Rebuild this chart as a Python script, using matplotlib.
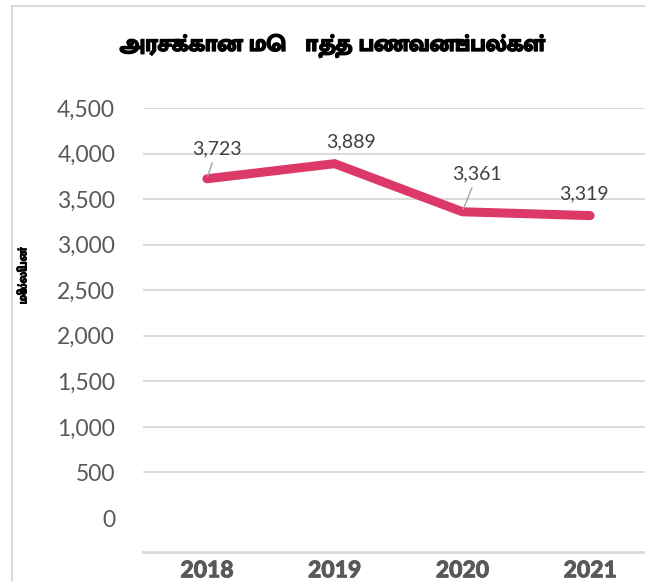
import matplotlib
matplotlib.use('Agg')
import matplotlib.pyplot as plt
import matplotlib.patheffects as pe
from matplotlib import font_manager
from matplotlib.ft2font import FT2Font
from matplotlib.patches import Rectangle

# data
years = ['2018', '2019', '2020', '2021']
values = [3723, 3889, 3361, 3319]
value_labels = ['3,723', '3,889', '3,361', '3,319']
ticks = [0, 500, 1000, 1500, 2000, 2500, 3000, 3500, 4000, 4500]
title = 'அரசுக்கான மொத்த பணவனுப்பல்கள்'
ylabel = 'மில்லியன்'

# fonts that have Tamil glyphs; prefer a bold one
tamil_fonts = []
for f in font_manager.fontManager.ttflist:
    try:
        if 0x0B85 in FT2Font(f.fname).get_charmap():
            tamil_fonts.append(f)
    except Exception:
        pass
tamil_fonts.sort(key=lambda f: -(f.weight if isinstance(f.weight, int) else 400))
tfile = tamil_fonts[0].fname if tamil_fonts else None

def tamil_prop(size):
    if tfile:
        return font_manager.FontProperties(fname=tfile, size=size)
    return font_manager.FontProperties(family='DejaVu Sans', size=size)

plt.rcParams['font.family'] = ['Lato', 'DejaVu Sans']

fig = plt.figure(figsize=(6.45, 5.81), dpi=100)
fig.patches.append(Rectangle((12/645, -0.1), 1.2, 1 - 6/581 + 0.1, transform=fig.transFigure,
                             fc='none', ec='#d9d9d9', lw=1.5, zorder=-1))
ax = fig.add_axes([143/645, 1 - 552/581, 511/645, (552 - 108)/581])
ax.patch.set_alpha(0)

x = list(range(len(years)))
ax.plot(x, values, color='#dc3868', lw=6.5, solid_capstyle='round', solid_joinstyle='miter', zorder=3)

offsets = [(10, 30), (16, 22), (15, 38), (-6, 22)]
leaders = [True, False, True, False]
for i, v in enumerate(values):
    ap = dict(arrowstyle='-', color='#a6a6a6', lw=1, shrinkA=2, shrinkB=2) if leaders[i] else None
    ax.annotate(value_labels[i], (i, v), xytext=offsets[i], textcoords='offset pixels',
                ha='center', va='center', fontsize=14, color='#404040', arrowprops=ap,
                annotation_clip=False, zorder=4)

ax.set_xlim(-0.5, 3.5)
ax.set_ylim(-373, 4500)
ax.set_yticks(ticks)
ax.set_yticklabels(['{:,}'.format(t) for t in ticks])
for t in ticks[1:]:
    ax.axhline(t, color='#d9d9d9', lw=1.3, zorder=1)
ax.set_xticks(x)
ax.set_xticklabels(years)
ax.tick_params(axis='y', length=0, pad=20, labelsize=16.5, labelcolor='#595959')
ax.tick_params(axis='x', length=0, pad=6, labelsize=16.5, labelcolor='#595959')
for lab in ax.get_xticklabels():
    lab.set_fontweight('black')
    lab.set_path_effects([pe.withStroke(linewidth=0.6, foreground='#595959')])
for s in ['top', 'right', 'left']:
    ax.spines[s].set_visible(False)
ax.spines['bottom'].set_color('#d9d9d9')
ax.spines['bottom'].set_linewidth(2)

bold = [pe.withStroke(linewidth=0.9, foreground='black')]
fig.text(332/645, 1 - 46/581, title, ha='center', va='center',
         color='black', fontproperties=tamil_prop(16.5), path_effects=bold)
fig.text(23/645, 1 - 276/581, ylabel, ha='center', va='center', rotation=90,
         color='black', fontproperties=tamil_prop(9),
         path_effects=[pe.withStroke(linewidth=0.5, foreground='black')])

plt.savefig('out.png', dpi=100)
